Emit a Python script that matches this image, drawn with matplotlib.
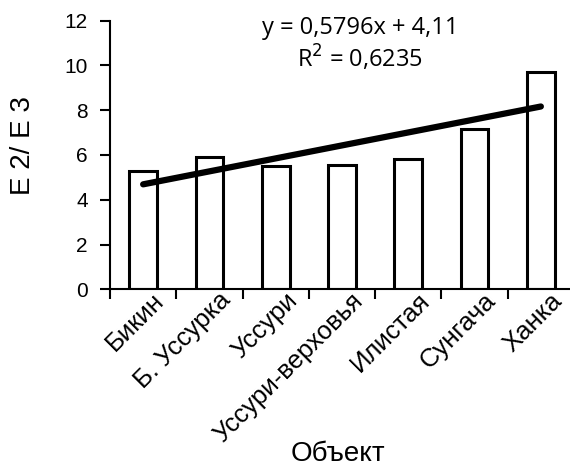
import matplotlib.pyplot as plt
import numpy as np
from matplotlib.ticker import FixedLocator
import matplotlib.transforms as mtrans

plt.rcParams['font.family'] = ['Liberation Sans', 'DejaVu Sans']

# data
objects = ['Бикин', 'Б. Уссурка', 'Уссури', 'Уссури-верховья',
           'Илистая', 'Сунгача', 'Ханка']
ratio = [5.30, 5.90, 5.51, 5.54, 5.84, 7.18, 9.72]
slope, intercept = 0.5796, 4.11
r2 = 0.6235
y_ticks = [0, 2, 4, 6, 8, 10, 12]


def main():
    fig = plt.figure(figsize=(5.7, 4.68), dpi=100)
    ax = fig.add_axes([110/570, 1 - 289.3/468, 464/570, 268.6/468])

    x = np.arange(len(objects))
    ax.bar(x, ratio, width=0.42, color='white', edgecolor='black',
           linewidth=2.2, zorder=2)

    # linear trend, x counted from 1 as in Excel
    xt = np.array([1, len(objects)])
    ax.plot(xt - 1, slope * xt + intercept, color='black', lw=4.5,
            solid_capstyle='round', zorder=3)

    ax.text(3.27, 11.68, 'y = 0,5796x + 4,11', ha='center', va='center',
            fontsize=17, family=['Open Sans', 'DejaVu Sans'])
    ax.text(3.27, 10.30, 'R$^2$ = 0,6235', ha='center', va='center',
            fontsize=17, family=['Open Sans', 'DejaVu Sans'])

    ax.set_xlim(-0.5, len(objects) - 0.5)
    ax.set_ylim(0, 12)
    ax.set_yticks(y_ticks)
    ax.tick_params(axis='y', labelsize=15, width=1.5, length=7,
                   direction='out', pad=9)
    ax.xaxis.set_major_locator(FixedLocator(np.arange(-0.5, len(objects) + 0.5, 1)))
    ax.tick_params(axis='x', labelbottom=False, width=1.5, length=7, direction='out')

    offset = mtrans.ScaledTranslation(9/100, 1/100, fig.dpi_scale_trans)
    for i, name in enumerate(objects):
        ax.text(i, 0, name, rotation=45, ha='right', va='top',
                rotation_mode='anchor', fontsize=18.5,
                transform=ax.transData + offset)

    for s in ['top', 'right']:
        ax.spines[s].set_visible(False)
    for s in ['left', 'bottom']:
        ax.spines[s].set_linewidth(1.5)

    fig.text(23/570, 1 - 146/468, 'E 2/ E 3', rotation=90, ha='center',
             va='center', fontsize=20)
    fig.text(338/570, 1 - 454/468, 'Объект', ha='center', va='center',
             fontsize=20)

    fig.savefig('out.png', dpi=100)


if __name__ == "__main__":
    main()
